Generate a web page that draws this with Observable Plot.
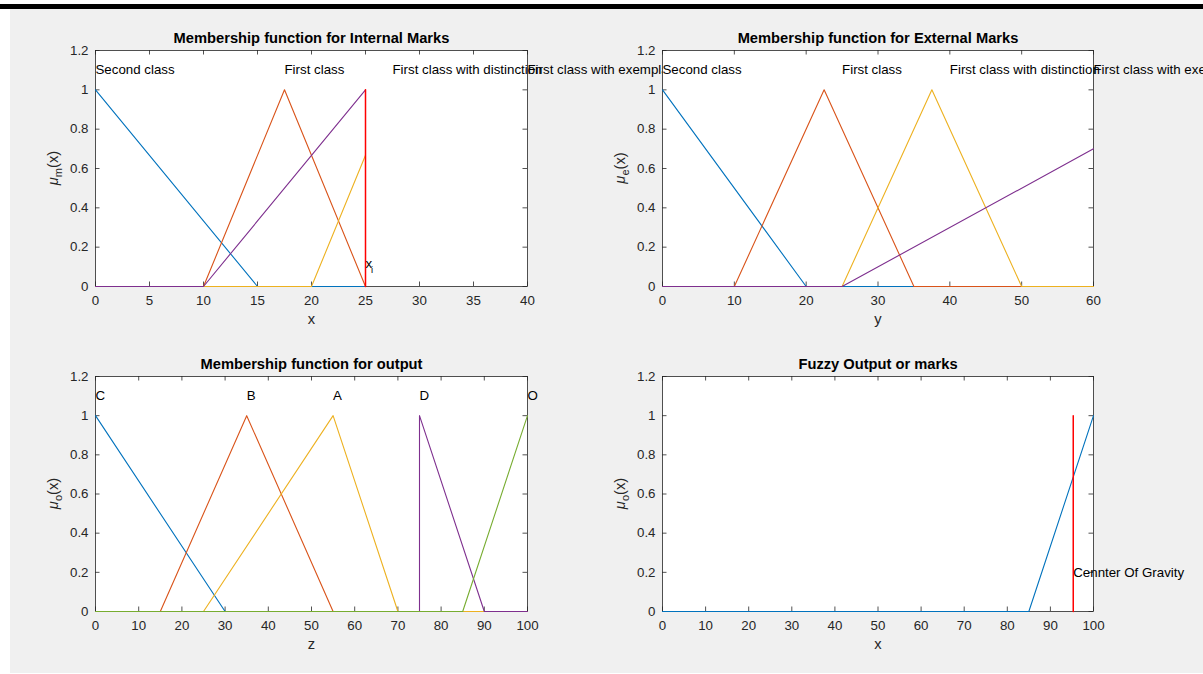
<!DOCTYPE html>
<html><head><meta charset="utf-8">
<script src="https://cdn.jsdelivr.net/npm/d3@7"></script>
<script src="https://cdn.jsdelivr.net/npm/@observablehq/plot@0.6"></script>
<style>
html,body{margin:0;padding:0;background:#fff;overflow:hidden;}
#root{position:relative;width:1203px;height:674px;overflow:hidden;font-family:"Liberation Sans",Arial,sans-serif;}
#bg{position:absolute;left:10px;top:9px;width:1193px;height:664px;background:#f0f0f0;}
#bar{position:absolute;left:0;top:4px;width:1203px;height:5px;background:#000;}
</style></head><body><div id="root"><div id="bar"></div><div id="bg"></div></div>
<script>
// ---------- data ----------
const colors = ["#0072BD", "#D95319", "#EDB120", "#7E2F8E", "#77AC30"];
const markerColor = "#FF0000";
const yTicks = [0, 0.2, 0.4, 0.6, 0.8, 1, 1.2];

// Internal marks
const internalTicks = [0, 5, 10, 15, 20, 25, 30, 35, 40];
const internalNames = ["Second class", "First class", "First class with distinction", "First class with exemplary"];
const internalLabelX = [0, 17.5, 27.5, 40];
const internalX = [[0, 15, 25], [0, 10, 17.5, 25], [0, 20, 25], [0, 10, 25]];
const internalY = [[1, 0, 0], [0, 0, 1, 0], [0, 0, 0.667], [0, 0, 1]];
const internalMarkerX = [25, 25];
const internalMarkerY = [0, 1];
const xiLabel = {x: 25, y: 0.1};

// External marks
const externalTicks = [0, 10, 20, 30, 40, 50, 60];
const externalNames = ["Second class", "First class", "First class with distinction", "First class with exemplary"];
const externalLabelX = [0, 25, 40, 60];
const externalX = [[0, 20, 60], [0, 10, 22.5, 35, 60], [0, 25, 37.5, 50, 60], [0, 25, 60]];
const externalY = [[1, 0, 0], [0, 0, 1, 0, 0], [0, 0, 1, 0, 0], [0, 0, 0.7]];

// Output membership
const outputTicks = [0, 10, 20, 30, 40, 50, 60, 70, 80, 90, 100];
const outputNames = ["C", "B", "A", "D", "O"];
const outputLabelX = [0, 35, 55, 75, 100];
const outputX = [[0, 30, 100], [0, 15, 35, 55, 100], [0, 25, 55, 70, 100], [0, 75, 75, 90, 100], [0, 85, 100]];
const outputY = [[1, 0, 0], [0, 0, 1, 0, 0], [0, 0, 1, 0, 0], [0, 0, 1, 0, 0], [0, 0, 1]];

// Fuzzy output
const fuzzyX = [[0, 85, 100]];
const fuzzyY = [[0, 0, 1]];
const cogX = [95.3, 95.3];
const cogY = [0, 1];
const cogLabel = {x: 95.3, y: 0.2, text: "Cennter Of Gravity"};

const labelY = 1.1;

// ---------- drawing ----------
const root = document.getElementById("root");
const axisColor = "#262626";

function seriesLines(xs, ys) {
  return xs.map((xx, i) => Plot.line(xx.map((x, j) => ({x, y: ys[i][j]})),
    {x: "x", y: "y", stroke: colors[i], strokeWidth: 1.1}));
}
function labelText(names, lx) {
  return Plot.text(names.map((t, i) => ({x: lx[i], y: labelY, t})),
    {x: "x", y: "y", text: "t", textAnchor: "start", fill: "#000", fontSize: 13.3});
}

function makePanel(cfg) {
  const fw = cfg.width - cfg.mL - cfg.mR, fh = cfg.height - cfg.mT - cfg.mB;
  const tk = 4.5;
  const tickStyle = {stroke: axisColor, strokeWidth: 0.8};
  const marks = [
    Plot.frame({fill: "white", stroke: null}),
    Plot.ruleX(cfg.xTicks, {x: d => d, insetTop: fh - tk, ...tickStyle}),
    Plot.ruleX(cfg.xTicks, {x: d => d, insetBottom: fh - tk, ...tickStyle}),
    Plot.ruleY(yTicks, {y: d => d, insetRight: fw - tk, ...tickStyle}),
    Plot.ruleY(yTicks, {y: d => d, insetLeft: fw - tk, ...tickStyle}),
    Plot.frame({stroke: axisColor, strokeWidth: 0.8}),
    Plot.axisX({ticks: cfg.xTicks, tickSize: 0, tickPadding: 9, label: null, tickFormat: d => String(d)}),
    Plot.axisY({ticks: yTicks, tickSize: 0, tickPadding: 7, label: null, tickFormat: d => String(d)}),
    ...cfg.marks,
    Plot.text([cfg.title], {text: d => d, frameAnchor: "top", lineAnchor: "middle", dy: -12.7, fontWeight: "bold", fontSize: 14.7, fill: "#000"}),
    Plot.text([cfg.xLabel], {text: d => d, frameAnchor: "bottom", lineAnchor: "middle", dy: 33, fontSize: 14.7, fill: axisColor})
  ];
  const svg = Plot.plot({
    width: cfg.width, height: cfg.height,
    marginLeft: cfg.mL, marginRight: cfg.mR, marginTop: cfg.mT, marginBottom: cfg.mB,
    x: {domain: cfg.xDomain},
    y: {domain: [0, 1.2]},
    style: {background: "transparent", overflow: "visible", fontFamily: "'Liberation Sans', Arial, sans-serif",
            fontSize: "13.3px", color: axisColor, maxWidth: "none"},
    marks
  });
  const yl = d3.select(svg).append("text")
    .attr("transform", `translate(${cfg.mL - 37},${cfg.mT + fh / 2}) rotate(-90)`)
    .attr("text-anchor", "middle").attr("font-size", 14.7).attr("fill", axisColor);
  yl.append("tspan").attr("font-style", "italic").text("μ");
  yl.append("tspan").attr("dy", 4).attr("font-size", 11).text(cfg.ySub);
  yl.append("tspan").attr("dy", -4).text("(x)");
  svg.style.position = "absolute";
  svg.style.left = cfg.left + "px";
  svg.style.top = cfg.top + "px";
  root.appendChild(svg);
}

// Top-left
makePanel({
  left: 0, top: 0, width: 601, height: 337, mL: 95, mR: 74, mT: 50, mB: 51,
  xDomain: [0, 40], xTicks: internalTicks, title: "Membership function for Internal Marks", xLabel: "x", ySub: "m",
  marks: [
    ...seriesLines(internalX, internalY),
    Plot.line(internalMarkerX.map((x, i) => ({x, y: internalMarkerY[i]})), {x: "x", y: "y", stroke: markerColor, strokeWidth: 1.5}),
    labelText(internalNames, internalLabelX),
    Plot.text([xiLabel], {x: "x", y: "y", text: () => "x", textAnchor: "start", dy: -3, fill: "#000", fontSize: 13.3}),
    Plot.text([xiLabel], {x: "x", y: "y", text: () => "i", textAnchor: "start", dx: 5.5, dy: 3, fill: "#000", fontSize: 9.5})
  ]
});
// Top-right
makePanel({
  left: 601, top: 0, width: 602, height: 337, mL: 61, mR: 110, mT: 50, mB: 51,
  xDomain: [0, 60], xTicks: externalTicks, title: "Membership function for External Marks", xLabel: "y", ySub: "e",
  marks: [
    ...seriesLines(externalX, externalY),
    labelText(externalNames, externalLabelX)
  ]
});
// Bottom-left
makePanel({
  left: 0, top: 337, width: 601, height: 337, mL: 95, mR: 74, mT: 39, mB: 63,
  xDomain: [0, 100], xTicks: outputTicks, title: "Membership function for output", xLabel: "z", ySub: "o",
  marks: [
    ...seriesLines(outputX, outputY),
    labelText(outputNames, outputLabelX)
  ]
});
// Bottom-right
makePanel({
  left: 601, top: 337, width: 602, height: 337, mL: 61, mR: 110, mT: 39, mB: 63,
  xDomain: [0, 100], xTicks: outputTicks, title: "Fuzzy Output or marks", xLabel: "x", ySub: "o",
  marks: [
    ...seriesLines(fuzzyX, fuzzyY),
    Plot.line(cogX.map((x, i) => ({x, y: cogY[i]})), {x: "x", y: "y", stroke: markerColor, strokeWidth: 1.5}),
    Plot.text([cogLabel], {x: "x", y: "y", text: "text", textAnchor: "start", fill: "#000", fontSize: 13.3})
  ]
});
</script></body></html>
